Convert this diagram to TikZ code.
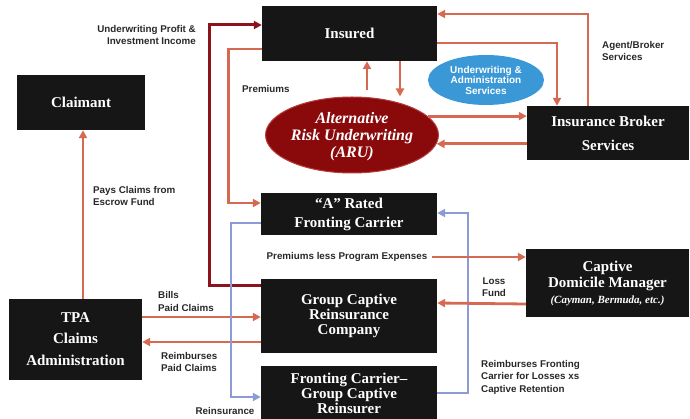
\documentclass[tikz,border=0pt]{standalone}
\usepackage{fontspec}
\setmainfont{Liberation Serif}
\setsansfont{Liberation Sans}
\usetikzlibrary{arrows.meta, shapes.geometric}
\definecolor{flow}{RGB}{214,105,82}
\definecolor{profit}{RGB}{140,18,28}
\definecolor{reins}{RGB}{140,155,215}
\definecolor{arufill}{RGB}{138,10,12}
\definecolor{aruedge}{RGB}{185,60,60}
\definecolor{uasfill}{RGB}{58,152,214}
\definecolor{boxfill}{RGB}{22,22,22}
\definecolor{lbltext}{RGB}{40,40,40}

\begin{document}
\begin{tikzpicture}[x=1pt, y=-1pt, >={Triangle[length=8pt,width=8pt]},
    party/.style={fill=boxfill, text=white, align=center, inner sep=0pt,
        font=\bfseries\fontsize{15}{16}\selectfont},
    aru/.style={ellipse, fill=arufill, draw=aruedge, line width=1pt, text=white,
        align=center, inner sep=0pt, font=\bfseries\itshape\fontsize{16}{17}\selectfont},
    uas/.style={ellipse, fill=uasfill, text=white, align=center, inner sep=0pt,
        font=\sffamily\bfseries\fontsize{10}{10.5}\selectfont},
    note/.style={font=\sffamily\bfseries\fontsize{9.8}{12.5}\selectfont, text=lbltext, inner sep=1pt},
    money/.style={draw=flow, line width=2.8pt, ->},
    gain/.style={draw=profit, line width=3pt, ->},
    ceded/.style={draw=reins, line width=2.3pt, ->}]
    \useasboundingbox (0,0) rectangle (690,419);

    \node[party, minimum width=175pt, minimum height=55pt] (ins) at (349.5,33.5) {Insured};
    \node[party, minimum width=128pt, minimum height=55pt] (clm) at (81,102.5) {Claimant};
    \node[aru, minimum width=170pt, minimum height=76pt, text depth=-4pt] (aru) at (352,135) {Alternative\\Risk Underwriting\\(ARU)};
    \node[uas, minimum width=116pt, minimum height=50pt] (uas) at (486,80) {Underwriting \&\\Administration\\Services};
    \node[party, minimum width=162pt, minimum height=54pt] (brk) at (608,133) {Insurance Broker\\[8pt]Services};
    \node[party, minimum width=176pt, minimum height=42pt, font=\bfseries\fontsize{15}{19}\selectfont] (fc) at (349,214) {“A” Rated\\Fronting Carrier};
    \node[party, minimum width=176pt, minimum height=74pt, font=\bfseries\fontsize{15}{15}\selectfont] (gc) at (349,316) {Group Captive\\Reinsurance\\Company};
    \node[party, minimum width=176pt, minimum height=54pt, font=\bfseries\fontsize{15}{15}\selectfont] (fr) at (349,393) {Fronting Carrier–\\Group Captive\\Reinsurer};
    \node[party, minimum width=163pt, minimum height=68pt] (cdm) at (607.5,283) {Captive\\Domicile Manager\\{\fontsize{11}{13}\selectfont\itshape(Cayman, Bermuda, etc.)}};
    \node[party, minimum width=133pt, minimum height=81pt] (tpa) at (75.5,339.5) {TPA\\[5pt]Claims\\[6pt]Administration};

    \node[note, anchor=east, align=right] (lprofit) at (197,35) {Underwriting Profit \&\\Investment Income};
    \node[note, anchor=west] (lprem) at (241,89) {Premiums};
    \node[note, anchor=west, align=left] (lagent) at (601,51) {Agent/Broker\\Services};
    \node[note, anchor=west, align=left] (lpays) at (92,196) {Pays Claims from\\Escrow Fund};
    \node[note, anchor=west, align=left] (lbills) at (157,301.5) {Bills\\Paid Claims};
    \node[note, anchor=west, align=left] (lreimb) at (160,362) {Reimburses\\Paid Claims};
    \node[note] (lreins) at (225,411) {Reinsurance};
    \node[note, inner sep=4pt] (lless) at (347,257) {Premiums less Program Expenses};
    \node[note, align=center] (lloss) at (494,287) {Loss\\Fund};
    \node[note, anchor=west, align=left] (lfront) at (480,377) {Reimburses Fronting\\Carrier for Losses xs\\Captive Retention};

    \draw[gain] ([yshift=-7pt]gc.north west) -- ++(-51,0) |- ([yshift=8.5pt]ins.west);
    \draw[money] ([yshift=-15.5pt]ins.west) -- ++(-33,0) |- ([yshift=11pt]fc.west);
    \draw[money] ([xshift=15pt,yshift=6pt]aru.north) -- ([xshift=17.5pt]ins.south);
    \draw[money] ([xshift=50.5pt]ins.south) -- ([xshift=48pt]aru.north);
    \draw[money] ([xshift=-20pt]brk.north) |- ([yshift=19.5pt]ins.east);
    \draw[money] ([yshift=-9.5pt]ins.east) -| ([xshift=-51pt]brk.north);
    \draw[money] (aru.14) -- (aru.14 -| brk.west);
    \draw[money] (brk.west |- aru.-6) -- (aru.-6);
    \draw[money] ([xshift=7.5pt]tpa.north) -- ([xshift=2pt]clm.south);
    \draw[money] ([yshift=22.5pt]tpa.east) -- ([yshift=-1pt]gc.west);
    \draw[money] ([yshift=-26pt]gc.west) -- ([yshift=-2.5pt]tpa.east);
    \draw[ceded] ([yshift=-9pt]fc.west) -- ++(-30,0) |- ([yshift=-4pt]fr.west);
    \draw[ceded] (fr.east) -- ++(31,0) |- ([yshift=1pt]fc.east);
    \draw[money] (lless.east) -- (lless.east -| cdm.west);
    \draw[money] ([yshift=-21pt]cdm.west) -- ([yshift=13pt]gc.east);
\end{tikzpicture}
\end{document}
